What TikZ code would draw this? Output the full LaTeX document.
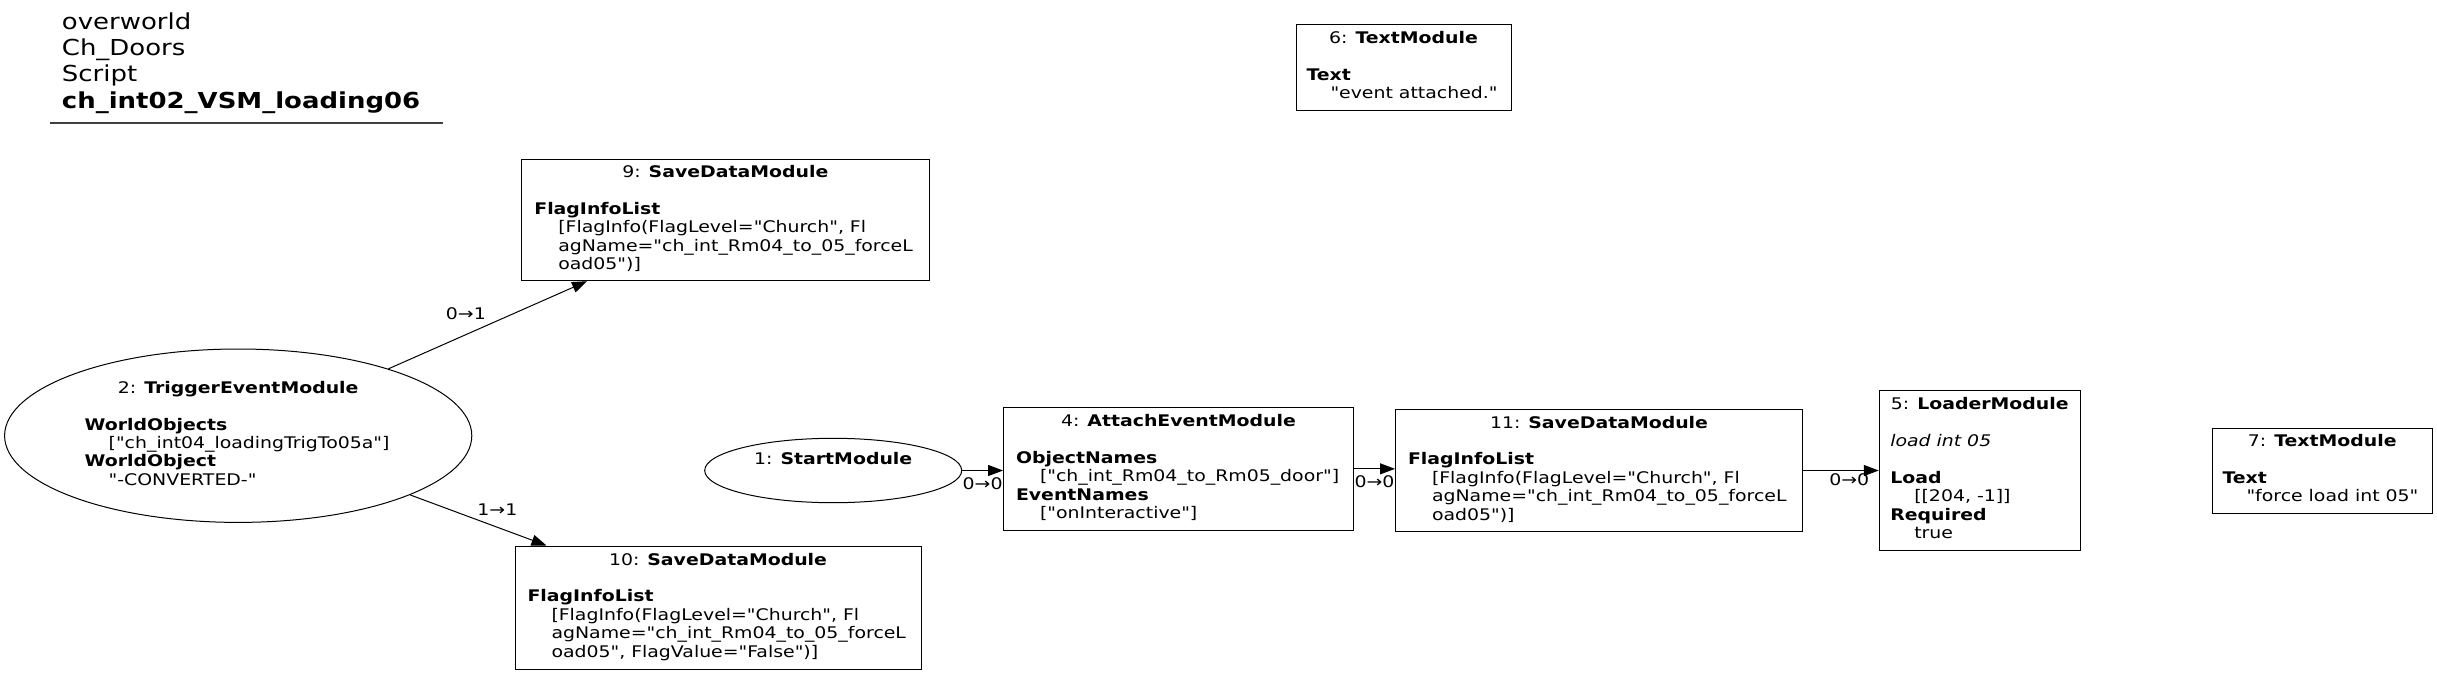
\documentclass[tikz,border=0pt]{standalone}
\usepackage{fontspec}
\setmainfont{DejaVu Sans}[FakeStretch=1.18, Ligatures=TeXOff]
\usetikzlibrary{arrows.meta,shapes.geometric,calc}
\setlength{\parskip}{0pt}
\setlength{\parindent}{0pt}
\newcommand{\NTitle}[1]{{\centering\strut #1\par}}
\newcommand{\NLine}[1]{\mbox{\strut #1}\par}
\newcommand{\NVal}[1]{\mbox{\strut\hspace*{24pt}#1}\par}
\newcommand{\NBlank}{\mbox{\strut}\par}
\newcommand{\NBox}[2]{\begin{minipage}{#1}\raggedright #2\end{minipage}}
\tikzset{
  txt/.style={font=\fontsize{16}{18.4}\selectfont, inner sep=0pt, text=black},
  modbox/.style={txt, draw, rectangle, line width=1pt},
  modell/.style={txt, draw, ellipse, line width=1pt},
  elabel/.style={txt, fill=none},
  conn/.style={draw, line width=1pt, -{Triangle[length=15pt,width=11pt]}}
}
\begin{document}
\begin{tikzpicture}[x=1pt,y=-1pt]
\useasboundingbox (0,0) rectangle (2437,675);

% title
\node[anchor=base west, inner sep=0pt, font=\fontsize{22}{26.3}\selectfont] (title) at (61.7,29.3)
  {\begin{minipage}[t]{420pt}overworld\\Ch\_Doors\\Script\\\textbf{ch\_int02\_VSM\_loading06}\end{minipage}};
\draw[line width=1.5pt, black!75] (50,123) -- (443,123);

% nodes
\node[modell, minimum width=467.2pt, minimum height=173.4pt] (n2) at (238.2,435.7)
  {\NBox{307pt}{\NTitle{2: \textbf{TriggerEventModule}}\NBlank\NLine{\textbf{WorldObjects}}\NVal{["ch\_int04\_loadingTrigTo05a"]}\NLine{\textbf{WorldObject}}\NVal{"-CONVERTED-"}}};

\node[modell, minimum width=257pt, minimum height=64.4pt] (n1) at (833.2,470.5)
  {\NBox{180pt}{\NTitle{1: \textbf{StartModule}}\NBlank}};

\node[modbox, minimum width=407.3pt, minimum height=121.7pt] (n9) at (725.35,219.85)
  {\NBox{382pt}{\NTitle{9: \textbf{SaveDataModule}}\NBlank\NLine{\textbf{FlagInfoList}}\NVal{[FlagInfo(FlagLevel="Church", Fl}\NVal{agName="ch\_int\_Rm04\_to\_05\_forceL}\NVal{oad05")]}}};

\node[modbox, minimum width=406pt, minimum height=123pt] (n10) at (718,607.5)
  {\NBox{381pt}{\NTitle{10: \textbf{SaveDataModule}}\NBlank\NLine{\textbf{FlagInfoList}}\NVal{[FlagInfo(FlagLevel="Church", Fl}\NVal{agName="ch\_int\_Rm04\_to\_05\_forceL}\NVal{oad05", FlagValue="False")]}}};

\node[modbox, minimum width=349.8pt, minimum height=122.3pt] (n4) at (1178.5,468.85)
  {\NBox{325pt}{\NTitle{4: \textbf{AttachEventModule}}\NBlank\NLine{\textbf{ObjectNames}}\NVal{["ch\_int\_Rm04\_to\_Rm05\_door"]}\NLine{\textbf{EventNames}}\NVal{["onInteractive"]}}};

\node[modbox, minimum width=407pt, minimum height=122.4pt] (n11) at (1599,470.5)
  {\NBox{382pt}{\NTitle{11: \textbf{SaveDataModule}}\NBlank\NLine{\textbf{FlagInfoList}}\NVal{[FlagInfo(FlagLevel="Church", Fl}\NVal{agName="ch\_int\_Rm04\_to\_05\_forceL}\NVal{oad05")]}}};

\node[modbox, minimum width=201pt, minimum height=159.6pt] (n5) at (1979.75,470.5)
  {\NBox{179pt}{\NTitle{5: \textbf{LoaderModule}}\NBlank\NLine{\textit{load int 05}}\NBlank\NLine{\textbf{Load}}\NVal{[[204, -1]]}\NLine{\textbf{Required}}\NVal{true}}};

\node[modbox, minimum width=219.5pt, minimum height=85pt] (n7) at (2322.25,470.5)
  {\NBox{199.5pt}{\NTitle{7: \textbf{TextModule}}\NBlank\NLine{\textbf{Text}}\NVal{"force load int 05"}}};

\node[modbox, minimum width=215pt, minimum height=85.7pt] (n6) at (1403.5,67.15)
  {\NBox{194pt}{\NTitle{6: \textbf{TextModule}}\NBlank\NLine{\textbf{Text}}\NVal{"event attached."}}};

% connectors
\draw[conn] (n2.24) -- ($(n9.south west)+(65.8,0)$) node[elabel, pos=0.39, yshift=21pt] (l29) {0→1};
\draw[conn] (n2.-19.6) -- ($(n10.north west)+(32,0)$) node[elabel, pos=0.64, yshift=18pt] (l210) {1→1};
\draw[conn] (n1.east) -- (n1.east -| n4.west) node[elabel, pos=0.5, yshift=-13.3pt] (l14) {0→0};
\draw[conn] (n4.east) -- (n4.east -| n11.west) node[elabel, pos=0.5, yshift=-13.3pt] (l411) {0→0};
\draw[conn] (n11.east) -- (n11.east -| n5.west) node[elabel, pos=0.61, yshift=-9.5pt] (l115) {0→0};
\end{tikzpicture}
\end{document}
